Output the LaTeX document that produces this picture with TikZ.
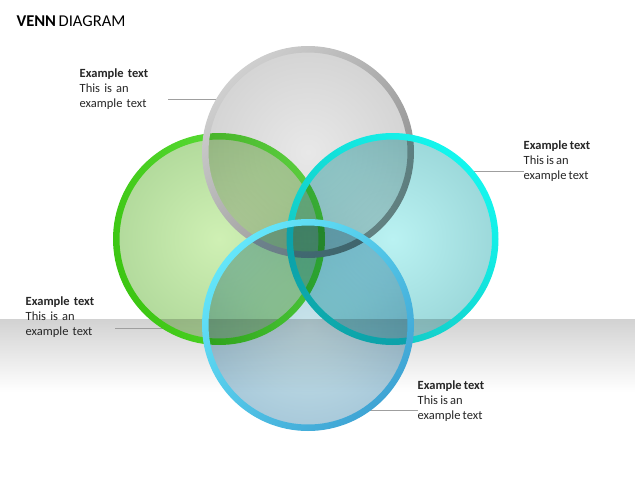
\documentclass[tikz,border=0pt]{standalone}
\usepackage{fontspec}
\setmainfont{Carlito}[WordSpace=0.7]
\usetikzlibrary{positioning}

\definecolor{bandgray}{HTML}{D2D2D2}
\definecolor{grayin}{HTML}{E8E8E8}
\definecolor{grayout}{HTML}{D4D4D4}
\definecolor{grayrima}{HTML}{CFCFCF}
\definecolor{grayrimb}{HTML}{8A8A8A}
\definecolor{greenin}{HTML}{CFF0B4}
\definecolor{greenout}{HTML}{B2DA9C}
\definecolor{greenrima}{HTML}{3CC612}
\definecolor{greenrimb}{HTML}{66E446}
\definecolor{cyanin}{HTML}{BAF2F2}
\definecolor{cyanout}{HTML}{9CD8DA}
\definecolor{cyanrima}{HTML}{12C2BE}
\definecolor{cyanrimb}{HTML}{14F6EE}
\definecolor{bluein}{HTML}{C8E3EA}
\definecolor{blueout}{HTML}{A8C9DA}
\definecolor{bluerima}{HTML}{64E6FA}
\definecolor{bluerimb}{HTML}{3FA4D4}

\newcommand\lblfont{\fontsize{12.5}{15.2}\selectfont\spaceskip=2.2pt plus 0.5pt\relax}

\tikzset{
    venn/.style={circle, minimum size=206pt, inner sep=0pt, outer sep=0pt},
    lbl/.style={anchor=north west, align=left, inner sep=0pt,
        font=\lblfont, text=black!85},
    leader/.style={draw=gray!75, line width=0.6pt}
}

\begin{document}
\begin{tikzpicture}[x=1pt, y=1pt]
    \useasboundingbox (0, 0) rectangle (635, -477);

    % floor
    \shade[top color=bandgray, bottom color=white] (0, -319) rectangle (635, -392);

    \node[anchor=base west, font=\fontsize{16.5}{19}\selectfont] (title) at (13, -26) {\textbf{VENN} DIAGRAM};

    \node[venn] (left) at (219, -239) {};
    \node[venn] (top) at (308, -152) {};
    \node[venn] (right) at (392.5, -239) {};
    \node[venn] (bottom) at (308, -325) {};

    \node[lbl, text width=88pt] (toptext) at (79.5, -68.5) {\textbf{Example text}\\This is an\\example text};
    \node[lbl] (righttext) at (523.5, -140.5) {\textbf{Example text}\\This is an\\example text};
    \node[lbl, text width=89pt] (lefttext) at (25.5, -296.5) {\textbf{Example text}\\This is an\\example text};
    \node[lbl] (bottomtext) at (417.5, -380.5) {\textbf{Example text}\\This is an\\example text};

    \draw[leader] (top.149) -- (top.149 -| toptext.east);
    \draw[leader] (right.41) -- (right.41 -| righttext.west);
    \draw[leader] (left.240) -- (left.240 -| lefttext.east);
    \draw[leader] (bottom.-56) -- (bottom.-56 -| bottomtext.west);

    % circles, back to front
    \shade[blend mode=multiply, inner color=greenin, outer color=greenout] (left.center) circle (103);
    \shade[even odd rule, top color=greenrima, bottom color=greenrimb, shading angle=110] (left.center) circle (106) circle (99.5);

    \shade[blend mode=multiply, inner color=grayin, outer color=grayout] (top.center) circle (103);
    \shade[even odd rule, top color=grayrima, bottom color=grayrimb, shading angle=45] (top.center) circle (106) circle (99.5);

    \shade[blend mode=multiply, inner color=cyanin, outer color=cyanout] (right.center) circle (103);
    \shade[even odd rule, top color=cyanrima, bottom color=cyanrimb, shading angle=135] (right.center) circle (106) circle (99.5);

    \shade[blend mode=multiply, inner color=bluein, outer color=blueout] (bottom.center) circle (103);
    \shade[even odd rule, top color=bluerima, bottom color=bluerimb, shading angle=45] (bottom.center) circle (106) circle (99.5);
\end{tikzpicture}
\end{document}
